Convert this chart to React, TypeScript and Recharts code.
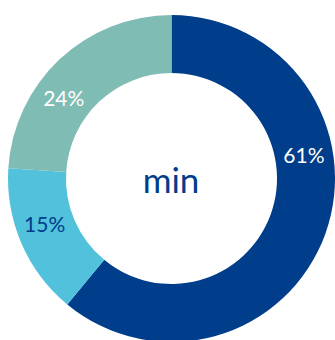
import { PieChart, Pie, Cell } from "recharts";

const labels = ["61%", "15%", "24%"];
const values = [61, 15, 24];
const colors = ["#003d8a", "#52c1dc", "#7fbcb4"];
const labelColors = ["#ffffff", "#003d8a", "#ffffff"];
// the source nudges its labels off the slice middle (degrees)
const labelShift = [30, -4, 10];

const data = values.map((v, i) => ({ name: labels[i], value: v }));

const RADIAN = Math.PI / 180;

function renderLabel(props: any) {
  const { cx, cy, midAngle, innerRadius, outerRadius, index } = props;
  const r = (innerRadius + outerRadius) / 2;
  const a = (midAngle + labelShift[index]) * RADIAN;
  const x = cx + r * Math.cos(a);
  const y = cy - r * Math.sin(a);
  return (
    <text
      x={x}
      y={y}
      fill={labelColors[index]}
      textAnchor="middle"
      dominantBaseline="central"
      fontSize={21}
      fontFamily="Lato, sans-serif"
    >
      {labels[index]}
    </text>
  );
}

export default function App() {
  return (
    <div style={{ position: "absolute", left: 0, top: 0, background: "#fff" }}>
      <PieChart
        width={335}
        height={340}
        margin={{ top: 0, right: 0, bottom: 0, left: 0 }}
      >
        <Pie
          data={data}
          dataKey="value"
          cx={171.5}
          cy={178.5}
          innerRadius={105.5}
          outerRadius={163.5}
          startAngle={90}
          endAngle={-270}
          stroke="none"
          labelLine={false}
          label={renderLabel}
          isAnimationActive={false}
        >
          {data.map((d, i) => (
            <Cell key={d.name} fill={colors[i]} />
          ))}
        </Pie>
        <text
          x={171}
          y={193}
          textAnchor="middle"
          fill="#003d8a"
          fontSize={35}
          fontFamily="Lato, sans-serif"
        >
          min
        </text>
      </PieChart>
    </div>
  );
}
